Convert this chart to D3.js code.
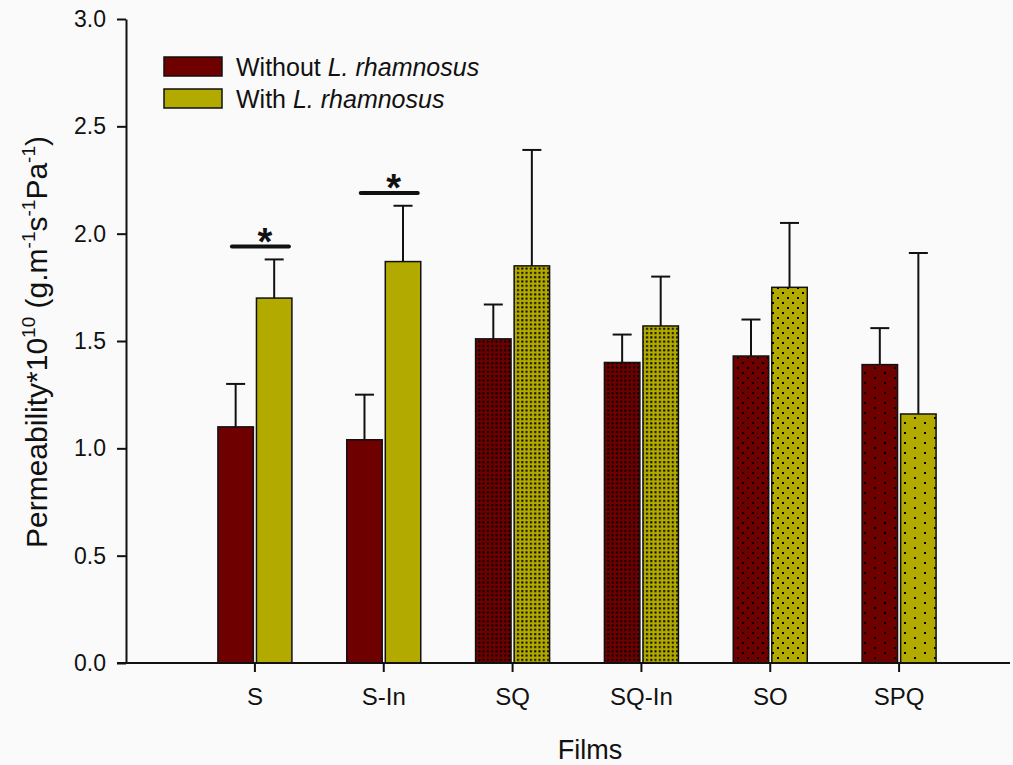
<!DOCTYPE html>
<html>
<head>
<meta charset="utf-8">
<script src="https://cdn.jsdelivr.net/npm/d3@7"></script>
<style>
    body { margin: 0; background: #fafafa; }
    svg { font-family: "Liberation Sans", Arial, sans-serif; }
</style>
</head>
<body>
<div id="chart"></div>
<script>
// Data
let categories = ["S", "S-In", "SQ", "SQ-In", "SO", "SPQ"];
let groups = ["Without", "With"];
let withoutValues = [1.10, 1.04, 1.51, 1.40, 1.43, 1.39];
let withoutErrors = [0.20, 0.21, 0.16, 0.13, 0.17, 0.17];
let withValues = [1.70, 1.87, 1.85, 1.57, 1.75, 1.16];
let withErrors = [0.18, 0.26, 0.54, 0.23, 0.30, 0.75];
let yTicks = [0, 0.5, 1.0, 1.5, 2.0, 2.5, 3.0];
let sigCategories = ["S", "S-In"];
let sigLevels = [1.94, 2.19];

// Styles
let colors = {Without: "#6f0000", With: "#b3aa00"};
let patternOf = {"S": "none", "S-In": "none", "SQ": "dense", "SQ-In": "dense", "SO": "medium", "SPQ": "sparse"};

let width = 1013, height = 765;

let svg = d3.select("#chart")
    .append("svg")
    .attr("width", width)
    .attr("height", height);

// Dot patterns
let defs = svg.append("defs");
let patternSpecs = {
    dense: {w: 4.3, h: 4.3, dots: [[1, 1]]},
    medium: {w: 10, h: 10, dots: [[2, 2], [7, 7]]},
    sparse: {w: 20, h: 10, dots: [[4, 2], [14, 7]]}
};
groups.forEach(function (g) {
    Object.keys(patternSpecs).forEach(function (k) {
        let spec = patternSpecs[k];
        let p = defs.append("pattern")
            .attr("id", "pat-" + g + "-" + k)
            .attr("patternUnits", "userSpaceOnUse")
            .attr("width", spec.w)
            .attr("height", spec.h);
        p.append("rect").attr("width", spec.w).attr("height", spec.h).attr("fill", colors[g]);
        spec.dots.forEach(function (d) {
            p.append("rect").attr("x", d[0]).attr("y", d[1]).attr("width", 2).attr("height", 2).attr("fill", "#000");
        });
    });
});

function fillFor(group, cat) {
    let k = patternOf[cat];
    return k === "none" ? colors[group] : "url(#pat-" + group + "-" + k + ")";
}

// Scales
let y = d3.scaleLinear().domain([0, 3]).range([663, 19]);
let x = d3.scaleBand().domain(categories).range([190.5, 963.5]);
let x1 = d3.scaleBand().domain(groups).range([-37, 37]).paddingInner(0.08);

let rows = [];
categories.forEach(function (c, i) {
    rows.push({cat: c, group: "Without", value: withoutValues[i], err: withoutErrors[i]});
    rows.push({cat: c, group: "With", value: withValues[i], err: withErrors[i]});
});

function barCenter(d) {
    return x(d.cat) + x.bandwidth() / 2 + x1(d.group) + x1.bandwidth() / 2;
}

// Error bars (drawn first so bars sit on top of the stems)
let eb = svg.append("g").selectAll("g")
    .data(rows)
    .enter()
    .append("g");
eb.append("line")
    .attr("x1", barCenter).attr("x2", barCenter)
    .attr("y1", function (d) { return y(d.value); })
    .attr("y2", function (d) { return y(d.value + d.err); })
    .attr("stroke", "#111").attr("stroke-width", 2);
eb.append("line")
    .attr("x1", function (d) { return barCenter(d) - 9.5; })
    .attr("x2", function (d) { return barCenter(d) + 9.5; })
    .attr("y1", function (d) { return y(d.value + d.err); })
    .attr("y2", function (d) { return y(d.value + d.err); })
    .attr("stroke", "#111").attr("stroke-width", 2);

// Bars
svg.append("g").selectAll("rect")
    .data(rows)
    .enter()
    .append("rect")
    .attr("x", function (d) { return x(d.cat) + x.bandwidth() / 2 + x1(d.group); })
    .attr("y", function (d) { return y(d.value); })
    .attr("width", x1.bandwidth())
    .attr("height", function (d) { return y(0) - y(d.value); })
    .attr("fill", function (d) { return fillFor(d.group, d.cat); })
    .attr("stroke", "#111")
    .attr("stroke-width", 1.5);

// Significance markers
sigCategories.forEach(function (c, i) {
    let cx = x(c) + x.bandwidth() / 2;
    svg.append("line")
        .attr("x1", cx - 23).attr("x2", cx + 34)
        .attr("y1", y(sigLevels[i])).attr("y2", y(sigLevels[i]))
        .attr("stroke", "#111").attr("stroke-width", 4)
        .attr("stroke-linecap", "round");
    svg.append("text")
        .attr("x", cx + 10)
        .attr("y", y(sigLevels[i]) + 8)
        .attr("text-anchor", "middle")
        .style("font-size", "38px")
        .style("font-weight", "bold")
        .attr("fill", "#111")
        .text("*");
});

// Y axis
let yAxis = svg.append("g")
    .attr("transform", "translate(126,0)")
    .call(d3.axisLeft(y).tickValues(yTicks).tickFormat(d3.format(".1f")).tickSize(9).tickSizeOuter(0));
yAxis.select(".domain").attr("stroke", "#111").attr("stroke-width", 2);
yAxis.selectAll(".tick line").attr("stroke", "#111").attr("stroke-width", 2);
yAxis.selectAll(".tick text")
    .attr("x", -20)
    .style("font-size", "23px")
    .style("font-family", "'Liberation Sans', Arial, sans-serif")
    .attr("fill", "#111");

// X axis
let xAxis = svg.append("g")
    .attr("transform", "translate(0,663)")
    .call(d3.axisBottom(x).tickSize(9).tickSizeOuter(0));
xAxis.select(".domain").remove();
xAxis.append("line")
    .attr("x1", 117).attr("x2", 1010)
    .attr("stroke", "#111").attr("stroke-width", 2);
xAxis.selectAll(".tick line").attr("stroke", "#111").attr("stroke-width", 2);
xAxis.selectAll(".tick text")
    .attr("y", 25)
    .style("font-size", "24px")
    .style("font-family", "'Liberation Sans', Arial, sans-serif")
    .attr("fill", "#111");

// Axis titles
svg.append("text")
    .attr("x", 590)
    .attr("y", 759)
    .attr("text-anchor", "middle")
    .style("font-size", "27px")
    .attr("fill", "#111")
    .text("Films");

let yTitle = svg.append("text")
    .attr("transform", "translate(47,342) rotate(-90)")
    .attr("text-anchor", "middle")
    .style("font-size", "30px")
    .attr("fill", "#111");
yTitle.append("tspan").text("Permeability*10");
yTitle.append("tspan").attr("dy", -12).style("font-size", "19px").text("10");
yTitle.append("tspan").attr("dy", 12).text(" (g.m");
yTitle.append("tspan").attr("dy", -12).style("font-size", "19px").text("-1");
yTitle.append("tspan").attr("dy", 12).text("s");
yTitle.append("tspan").attr("dy", -12).style("font-size", "19px").text("-1");
yTitle.append("tspan").attr("dy", 12).text("Pa");
yTitle.append("tspan").attr("dy", -12).style("font-size", "19px").text("-1");
yTitle.append("tspan").attr("dy", 12).text(")");

// Legend
let legend = svg.append("g").selectAll("g")
    .data(groups)
    .enter()
    .append("g")
    .attr("transform", function (d, i) { return "translate(164," + (57 + i * 32) + ")"; });
legend.append("rect")
    .attr("width", 58)
    .attr("height", 19)
    .attr("fill", function (d) { return colors[d]; })
    .attr("stroke", "#111")
    .attr("stroke-width", 1.5);
let legendText = legend.append("text")
    .attr("x", 72)
    .attr("y", 19)
    .style("font-size", "25px")
    .attr("fill", "#111");
legendText.append("tspan").text(function (d) { return d + " "; });
legendText.append("tspan").style("font-style", "italic").text("L. rhamnosus");
</script>
</body>
</html>
